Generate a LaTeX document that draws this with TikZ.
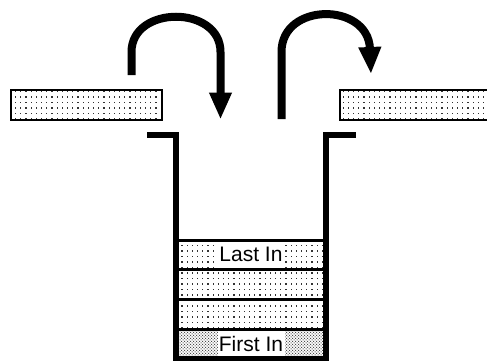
\documentclass[tikz,border=0pt]{standalone}
\usepackage{fontspec}
\setmainfont{Liberation Sans}
\usetikzlibrary{arrows.meta,patterns}

% fine grid of grey dots for the bars and the stacked items
\pgfdeclarepatternformonly{sparsedots}{\pgfqpoint{-1pt}{-1pt}}{\pgfqpoint{1pt}{1pt}}{\pgfqpoint{5.2pt}{5.5pt}}{%
  \pgfpathrectangle{\pgfqpoint{-0.6pt}{-0.6pt}}{\pgfqpoint{1.2pt}{1.2pt}}%
  \pgfusepath{fill}}
% denser staggered dots for the bottom item
\pgfdeclarepatternformonly{densedots}{\pgfqpoint{-1pt}{-1pt}}{\pgfqpoint{3pt}{3pt}}{\pgfqpoint{3pt}{3pt}}{%
  \pgfpathrectangle{\pgfqpoint{-0.5pt}{-0.5pt}}{\pgfqpoint{1pt}{1pt}}%
  \pgfpathrectangle{\pgfqpoint{1pt}{1pt}}{\pgfqpoint{1pt}{1pt}}%
  \pgfusepath{fill}}

\tikzset{
  bar/.style={draw, line width=2.6pt, pattern=sparsedots, pattern color=black!80,
    minimum height=30pt, inner sep=0pt},
  slot/.style={draw, line width=3pt, pattern=sparsedots, pattern color=black!80,
    minimum width=150pt, minimum height=29.75pt, inner sep=0pt},
  firstslot/.style={slot, pattern=densedots, pattern color=black!70},
  tag/.style={fill=white, minimum width=67pt, minimum height=26.5pt, inner sep=0pt,
    font=\fontsize{21}{25}\selectfont},
  wall/.style={line width=6pt, line join=miter},
  flow/.style={line width=8pt, -{Triangle[width=21pt,length=27pt]}},
}

\begin{document}
\begin{tikzpicture}[x=1pt,y=-1pt]
  \useasboundingbox (0,0) rectangle (487,361);

  % input and output bars
  \node[bar, minimum width=151pt] (inbar) at (86.5,105) {};
  \node[bar, minimum width=152pt] (outbar) at (416,105) {};

  % stacked items
  \node[slot] (s1) at (251,254.875) {};
  \node[slot] (s2) at (251,284.625) {};
  \node[slot] (s3) at (251,314.375) {};
  \node[firstslot] (s4) at (251,344.125) {};
  \node[tag] (last) at (s1) {Last In};
  \node[tag] (first) at (s4) {First In};

  % container walls
  \draw[wall] (147,135) -- (176,135) -- (176,359) -- (326,359) -- (326,135) -- (356,135);

  % push and pop arrows
  \coordinate (pushstart) at (131.5,75);
  \coordinate (pushend) at (220.5,119.5);
  \coordinate (popstart) at (281.5,119);
  \coordinate (popend) at (371,74);
  \draw[flow] (pushstart) -- (131.5,52) .. controls (131.5,5) and (220.5,5) .. (220.5,52)
    -- (pushend);
  \draw[flow] (popstart) -- (281.5,52) .. controls (281.5,2) and (368,2) .. (popend);
\end{tikzpicture}
\end{document}
